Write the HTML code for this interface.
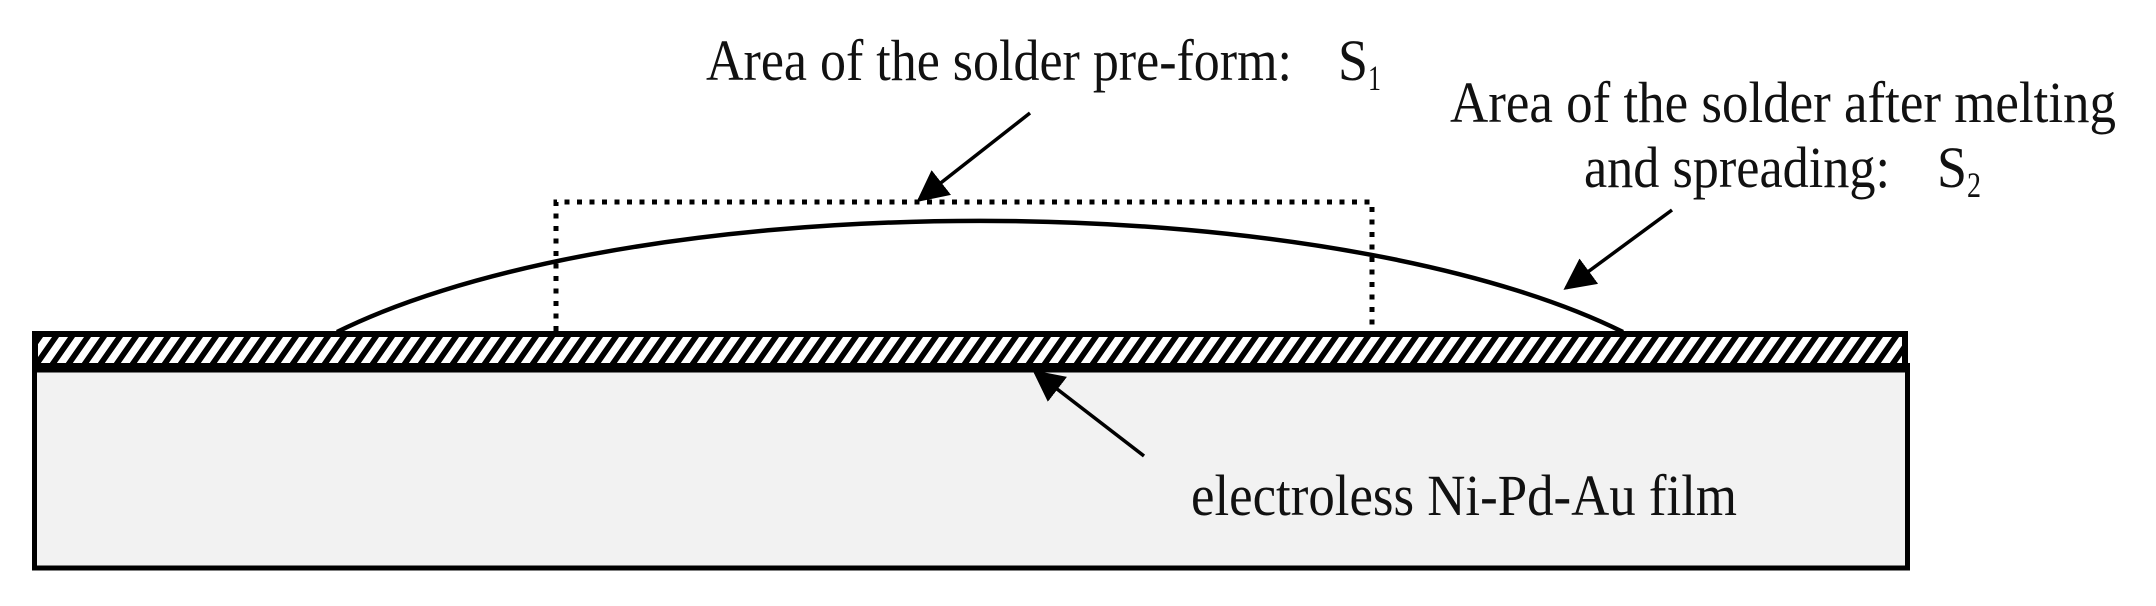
<!DOCTYPE html>
<html><head><meta charset="utf-8"><style>
html,body{margin:0;padding:0;background:#fff;}
svg{display:block;}
text{font-family:"Liberation Serif",serif;fill:#111;}
</style></head><body>
<svg width="2156" height="606" viewBox="0 0 2156 606" xmlns="http://www.w3.org/2000/svg">
<defs>
<pattern id="h" patternUnits="userSpaceOnUse" width="16" height="40" patternTransform="skewX(-35)">
<rect width="16" height="40" fill="#fff"/>
<rect x="0" y="0" width="7" height="40" fill="#000"/>
</pattern>
<marker id="a" viewBox="0 0 10 10" refX="9" refY="5" markerWidth="9" markerHeight="9" markerUnits="strokeWidth" orient="auto">
<path d="M0,0 L10,5 L0,10 Z" fill="#000"/>
</marker>
</defs>
<rect x="34.5" y="370" width="1873" height="198" fill="#f2f2f2" stroke="#000" stroke-width="5"/>
<rect x="35" y="334" width="1870" height="32" fill="url(#h)" stroke="#000" stroke-width="6"/>
<rect x="33" y="363" width="1877" height="9" fill="#000"/>
<path d="M556 331 L556 202 L1372 202 L1372 331" fill="none" stroke="#000" stroke-width="5" stroke-dasharray="5 7.5"/>
<path d="M337 332 A 760 238 0 0 1 1623 332" fill="none" stroke="#000" stroke-width="4.5"/>
<line x1="1030" y1="113" x2="919" y2="200" stroke="#000" stroke-width="3.5" marker-end="url(#a)"/>
<line x1="1672" y1="210" x2="1566" y2="288" stroke="#000" stroke-width="3.5" marker-end="url(#a)"/>
<line x1="1144" y1="456" x2="1035" y2="372" stroke="#000" stroke-width="3.5" marker-end="url(#a)"/>
<text x="706" y="80" font-size="58" textLength="586" lengthAdjust="spacingAndGlyphs">Area of the solder pre-form:</text>
<text x="1338" y="80" font-size="58" textLength="30" lengthAdjust="spacingAndGlyphs">S</text>
<text x="1368" y="90" font-size="36" textLength="13" lengthAdjust="spacingAndGlyphs">1</text>
<text x="1450" y="122" font-size="58" textLength="666" lengthAdjust="spacingAndGlyphs">Area of the solder after melting</text>
<text x="1584" y="187" font-size="58" textLength="306" lengthAdjust="spacingAndGlyphs">and spreading:</text>
<text x="1937" y="187" font-size="58" textLength="30" lengthAdjust="spacingAndGlyphs">S</text>
<text x="1967" y="197" font-size="36" textLength="14" lengthAdjust="spacingAndGlyphs">2</text>
<text x="1191" y="515" font-size="58" textLength="546" lengthAdjust="spacingAndGlyphs">electroless Ni-Pd-Au film</text>
</svg>
</body></html>
